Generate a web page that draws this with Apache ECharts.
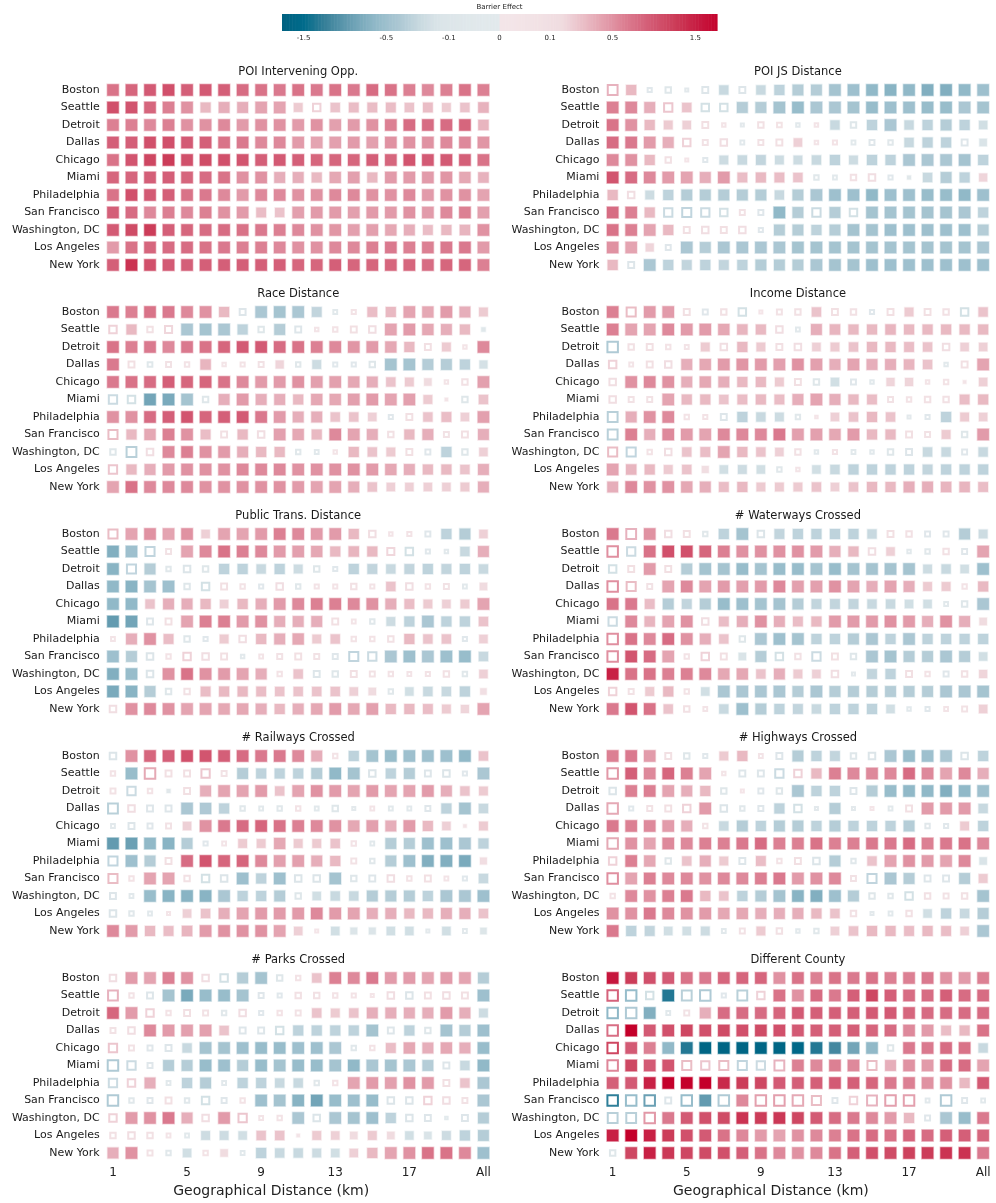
<!DOCTYPE html>
<html>
<head>
<meta charset="utf-8">
<script src="https://cdn.jsdelivr.net/npm/echarts@6/dist/echarts.min.js"></script>
<style>
  html, body { margin: 0; padding: 0; background: #fff; }
  #chart { width: 996px; height: 1203px; }
</style>
</head>
<body>
<div id="chart"></div>
<script>
// rows of every panel, top to bottom
const cities = ['Boston', 'Seattle', 'Detroit', 'Dallas', 'Chicago', 'Miami',
  'Philadelphia', 'San Francisco', 'Washington, DC', 'Los Angeles', 'New York'];
const distances = ['1','2','3','4','5','6','7','8','9','10','11','12','13','14','15','16','17','18','19','20','All'];
const colorbarTicks = [-1.5, -0.5, -0.1, 0, 0.1, 0.5, 1.5];
const colorbarMax = 1.85;

// barrier effect per city (row) and distance (column); hollow mask: 'o' = hollow marker
const poiOppVals = [
  [0.7,0.8,0.9,1.0,0.85,0.9,0.85,0.75,0.7,0.65,0.7,0.65,0.7,0.65,0.75,0.7,0.6,0.55,0.6,0.7,0.6],
  [1.0,0.95,0.8,0.6,0.5,0.3,0.35,0.35,0.4,0.4,0.22,0.2,0.25,0.28,0.28,0.28,0.25,0.28,0.22,0.25,0.33],
  [0.6,0.6,0.55,0.6,0.5,0.5,0.55,0.45,0.5,0.5,0.45,0.5,0.42,0.45,0.5,0.6,0.75,0.75,0.75,0.8,0.32],
  [0.85,0.85,1.0,1.0,0.9,0.85,0.7,0.65,0.55,0.55,0.45,0.4,0.42,0.45,0.42,0.5,0.5,0.5,0.55,0.55,0.48],
  [0.7,0.95,1.1,1.2,1.0,1.05,1.0,0.95,0.85,0.9,0.85,0.8,0.8,0.8,0.85,0.8,0.95,0.9,0.9,0.85,0.7],
  [0.8,0.8,0.85,0.85,0.8,0.75,0.7,0.5,0.5,0.35,0.35,0.3,0.38,0.42,0.3,0.45,0.45,0.45,0.48,0.38,0.33],
  [0.7,1.0,0.9,0.85,0.7,0.65,0.55,0.45,0.55,0.55,0.5,0.5,0.55,0.55,0.5,0.5,0.55,0.45,0.5,0.5,0.4],
  [0.85,0.75,0.55,0.6,0.55,0.6,0.5,0.45,0.28,0.25,0.42,0.45,0.45,0.42,0.45,0.45,0.5,0.45,0.55,0.6,0.42],
  [0.9,1.05,1.2,0.85,0.8,0.75,0.75,0.7,0.65,0.6,0.55,0.5,0.48,0.42,0.42,0.38,0.35,0.28,0.3,0.32,0.5],
  [0.45,0.7,0.8,0.75,0.75,0.7,0.65,0.6,0.6,0.55,0.5,0.5,0.55,0.55,0.6,0.65,0.6,0.6,0.65,0.65,0.45],
  [0.85,1.3,1.0,0.9,0.85,0.85,0.85,0.85,0.85,0.85,0.8,0.8,0.85,0.8,0.8,0.8,0.8,0.75,0.8,0.8,0.6]
];
const poiOppHollow = [
  '.....................', '...........o.........', '.....................', '.....................',
  '.....................', '.....................', '.....................', '.....................',
  '.....................', '.....................', '.....................'
];

const poiJsVals = [
  [0.35,0.3,-0.05,-0.1,-0.02,-0.12,-0.25,-0.12,-0.25,-0.3,-0.35,-0.35,-0.45,-0.5,-0.6,-0.65,-0.6,-0.7,-0.7,-0.6,-0.5],
  [0.6,0.55,0.35,0.25,0.25,-0.2,-0.2,-0.35,-0.35,-0.45,-0.55,-0.4,-0.4,-0.45,-0.55,-0.5,-0.5,-0.55,-0.55,-0.4,-0.45],
  [0.7,0.5,0.3,0.22,0.2,0.12,0.03,-0.02,0.1,0.07,-0.03,0.03,-0.25,-0.1,-0.3,-0.4,-0.25,-0.3,-0.35,-0.3,-0.2],
  [0.75,0.65,0.45,0.35,0.2,0.08,0.15,-0.04,0.08,0.12,0.2,0.03,0.05,-0.04,-0.08,-0.06,-0.25,-0.3,-0.3,-0.12,-0.15],
  [0.55,0.5,0.3,0.1,0.02,-0.05,-0.22,-0.25,-0.28,-0.22,-0.22,-0.25,-0.3,-0.22,-0.3,-0.3,-0.4,-0.4,-0.4,-0.45,-0.3],
  [0.95,0.75,0.55,0.45,0.4,0.35,0.45,0.28,0.3,0.28,0.25,-0.06,-0.04,0.1,0.15,-0.05,-0.02,-0.25,-0.35,-0.3,0.18],
  [0.3,0.15,-0.22,-0.3,-0.35,-0.35,-0.35,-0.35,-0.35,-0.25,-0.35,-0.4,-0.5,-0.5,-0.6,-0.5,-0.5,-0.55,-0.55,-0.6,-0.5],
  [0.75,0.6,0.3,-0.25,-0.3,-0.25,-0.2,0.08,-0.08,-0.6,-0.35,-0.25,-0.35,-0.2,-0.45,-0.45,-0.45,-0.45,-0.45,-0.4,-0.3],
  [0.7,0.6,0.4,0.3,0.12,0.15,0.12,0.15,-0.05,-0.35,-0.35,-0.3,-0.35,-0.45,-0.45,-0.5,-0.5,-0.5,-0.5,-0.5,-0.35],
  [0.5,0.4,0.18,-0.08,-0.4,-0.35,-0.4,-0.4,-0.4,-0.4,-0.45,-0.45,-0.45,-0.45,-0.45,-0.45,-0.45,-0.45,-0.45,-0.45,-0.4],
  [0.3,-0.12,-0.4,-0.3,-0.28,-0.3,-0.28,-0.3,-0.35,-0.35,-0.35,-0.4,-0.45,-0.45,-0.5,-0.5,-0.5,-0.5,-0.5,-0.5,-0.5]
];
const poiJsHollow = [
  'o.oooo.o.............', '...o.oo..............', '.....ooooooo.o.......', '....oooooo.ooooo...o.',
  '...ooo...............', '...........ooooo.....', '.o...................', '...oooooo..o.o.......',
  '....ooooo............', '...o.................', '.o...................'
];

const raceVals = [
  [0.65,0.6,0.7,0.65,0.55,0.5,0.3,-0.12,-0.4,-0.45,-0.4,-0.28,-0.04,0.05,0.28,0.3,0.4,0.38,0.45,0.35,0.22],
  [0.2,0.3,0.1,0.18,-0.4,-0.45,-0.4,-0.3,-0.1,-0.35,-0.12,0.03,0.06,0.12,0.15,0.4,0.45,0.38,0.35,0.3,-0.03],
  [0.7,0.6,0.65,0.55,0.65,0.7,0.8,0.9,0.9,0.75,0.7,0.6,0.55,0.48,0.45,0.38,0.3,0.12,0.22,0.03,0.55],
  [0.65,0.12,-0.07,0.08,0.06,0.32,0.03,0.05,0.08,0.18,-0.06,-0.22,-0.05,-0.05,-0.1,-0.45,-0.45,-0.35,-0.35,-0.3,-0.18],
  [0.65,0.7,0.75,0.85,0.8,0.8,0.7,0.55,0.45,0.45,0.5,0.42,0.42,0.38,0.35,0.25,0.22,0.15,0.03,0.1,0.42],
  [-0.25,-0.2,-0.8,-0.75,-0.45,-0.1,0.35,0.45,0.35,0.35,0.3,0.38,0.38,0.42,0.45,0.4,0.42,0.22,0.01,-0.1,0.25],
  [0.5,0.5,0.75,0.85,0.95,0.8,0.85,0.9,0.65,0.45,0.35,0.35,0.25,0.25,0.2,-0.05,0.12,0.25,0.28,0.2,0.42],
  [0.3,0.3,0.38,0.6,0.5,0.28,0.12,0.3,0.15,0.42,0.38,0.3,0.55,0.4,0.35,0.1,0.3,0.35,0.08,0.12,0.35],
  [-0.1,-0.35,0.15,0.55,0.6,0.5,0.45,0.35,0.3,0.3,-0.06,-0.04,0.03,0.3,0.25,0.22,0.12,-0.08,-0.3,-0.1,0.2],
  [0.25,0.3,0.35,0.45,0.5,0.5,0.5,0.55,0.55,0.55,0.5,0.5,0.5,0.5,0.45,0.38,0.35,0.3,0.3,0.25,0.35],
  [0.4,0.7,0.55,0.55,0.55,0.5,0.5,0.5,0.5,0.5,0.45,0.4,0.4,0.35,0.25,0.2,0.2,0.2,0.2,0.22,0.35]
];
const raceHollow = [
  '.......o....oo.......', 'o.oo....o.ooooo......', '.................o.o.', '.oooo.ooo.o.ooo......',
  '..................oo.', 'oo...o.............o.', '...............oo....', 'o.....o.o......o..oo.',
  'ooo.......ooo...oo.o.', 'o....................', '.....................'
];

const incomeVals = [
  [0.6,0.3,0.45,0.45,0.12,-0.08,0.1,-0.2,0.02,0.08,0.1,0.25,0.12,0.1,-0.05,0.12,0.22,0.12,0.1,-0.2,0.25],
  [0.6,0.4,0.4,0.55,0.45,0.45,0.38,0.32,0.3,0.15,-0.04,0.35,0.32,0.3,0.3,0.32,0.3,0.3,0.3,0.3,0.3],
  [-0.4,0.1,0.12,0.06,0.04,0.22,0.15,0.3,0.22,0.12,0.15,0.2,0.22,0.25,0.3,0.3,0.28,0.25,0.15,0.2,0.2],
  [0.2,0.04,0.12,0.15,0.35,0.38,0.45,0.48,0.45,0.42,0.5,0.42,0.35,0.4,0.35,0.35,0.32,0.25,-0.03,0.12,0.4],
  [0.15,0.5,0.55,0.5,0.35,0.38,0.35,0.3,0.3,0.22,0.12,-0.1,-0.2,-0.08,-0.03,0.18,0.18,0.03,0.06,0.01,0.2],
  [0.15,0.08,0.08,0.4,0.3,0.3,0.25,0.28,0.3,0.28,0.35,0.4,0.35,0.3,0.28,0.08,0.06,0.1,0.1,0.28,0.3],
  [-0.35,0.35,0.5,0.55,0.06,0.05,-0.12,-0.3,-0.25,-0.22,-0.06,0.01,0.2,0.25,0.3,0.25,-0.02,-0.05,-0.3,0.22,0.2],
  [-0.35,0.6,0.35,0.55,0.45,0.4,0.55,0.55,0.55,0.65,0.42,0.42,0.38,0.45,0.3,0.3,0.12,0.08,0.22,-0.1,0.45],
  [0.3,-0.3,0.06,0.15,0.25,0.28,0.4,0.3,0.25,0.2,0.1,-0.03,0.05,-0.04,-0.03,-0.1,-0.12,-0.25,-0.25,-0.08,-0.25],
  [0.4,0.32,0.3,0.22,0.25,0.12,-0.2,-0.22,-0.2,-0.06,0.03,-0.2,-0.25,-0.3,-0.3,-0.3,-0.3,-0.28,-0.3,-0.3,-0.3],
  [0.35,0.55,0.5,0.5,0.38,0.35,0.28,0.3,0.22,0.22,0.22,0.25,0.2,0.25,0.3,0.3,0.35,0.35,0.32,0.32,0.28]
];
const incomeHollow = [
  '.o..ooooooo.oooo.ooo.', '.........oo..........', 'ooooo.o..oo.......o..', 'oooo..............oo.',
  'o.........oo.oo..oo..', 'ooo............oooo..', 'o...ooo...oo....oo...', 'o...............oo.o.',
  'oooo......ooooooo..o.', '.........oo..........', '.....................'
];

const transitVals = [
  [0.3,0.4,0.5,0.4,0.5,0.2,0.4,0.4,0.45,0.6,0.55,0.45,0.45,0.3,0.15,0.03,0.05,-0.08,-0.3,-0.35,0.2],
  [-0.7,-0.5,-0.3,0.08,0.4,0.55,0.7,0.6,0.55,0.45,0.42,0.38,0.3,0.32,0.3,0.18,-0.2,-0.05,-0.03,-0.25,0.35],
  [-0.65,-0.3,-0.35,-0.06,-0.15,-0.1,-0.3,-0.3,-0.25,-0.3,-0.22,-0.1,-0.05,-0.3,-0.28,-0.25,-0.28,-0.3,-0.28,-0.3,-0.25],
  [-0.6,-0.65,-0.45,-0.5,-0.1,-0.2,0.12,0.06,-0.05,0.15,-0.06,0.05,0.05,0.1,0.05,0.25,0.15,0.06,0.08,-0.04,0.15],
  [-0.6,-0.6,0.25,0.35,0.35,0.3,0.2,0.3,0.35,0.45,0.55,0.6,0.6,0.55,0.5,0.35,0.28,0.22,0.2,0.22,0.4],
  [-0.9,-0.8,-0.12,0.12,0.4,0.6,0.6,0.45,0.5,0.35,0.35,0.35,0.12,0.04,-0.06,-0.22,-0.3,-0.4,-0.3,-0.3,0.25],
  [0.04,0.35,0.5,0.28,-0.1,-0.05,0.22,0.15,0.3,0.35,0.38,0.22,0.25,0.06,0.06,0.1,0.3,0.25,0.25,-0.05,0.2],
  [-0.5,-0.35,-0.15,0.06,0.2,0.15,0.12,-0.03,0.04,0.08,0.12,0.08,-0.08,-0.3,-0.25,-0.4,-0.5,-0.4,-0.5,-0.55,-0.25],
  [-0.7,-0.55,-0.15,0.5,0.7,0.5,0.45,0.4,0.35,0.06,0.25,-0.12,-0.1,0.12,0.08,0.06,0.04,0.05,0.1,-0.06,0.2],
  [-0.75,-0.65,-0.35,-0.1,0.1,0.28,0.3,0.3,0.28,0.25,0.25,0.25,0.25,0.2,0.15,-0.06,-0.2,-0.25,-0.25,-0.3,0.1],
  [0.15,0.5,0.55,0.5,0.4,0.4,0.38,0.38,0.35,0.3,0.35,0.38,0.45,0.38,0.42,0.3,0.3,0.28,0.22,0.18,0.4]
];
const transitHollow = [
  'o.............oooo...', '..oo...........oooo..', '.o.ooo.....oo........', '....ooooooooooo.oooo.',
  '.....................', '..oo........ooo......', 'o...oo.o.....ooo...o.', '..ooooooooooooo......',
  '..o......o.ooooooooo.', '...oo..........o.....', 'o....................'
];

const waterVals = [
  [0.65,0.35,0.5,0.15,0.12,-0.06,-0.3,-0.45,-0.15,-0.28,-0.3,-0.3,-0.3,-0.3,-0.25,0.12,0.1,-0.08,-0.08,-0.35,-0.22],
  [0.55,-0.25,0.7,1.0,1.0,0.8,0.6,0.5,0.5,0.5,0.5,0.45,0.35,0.3,0.15,0.2,-0.03,-0.06,0.1,-0.08,0.4],
  [-0.2,0.12,0.45,0.12,-0.35,-0.45,-0.45,-0.55,-0.45,-0.55,-0.55,-0.45,-0.55,-0.45,-0.45,-0.45,-0.45,-0.22,-0.25,-0.2,-0.5],
  [0.55,0.3,0.08,0.4,0.55,0.4,0.45,0.42,0.45,0.55,0.42,0.42,0.5,0.4,0.35,0.4,0.35,0.22,0.22,0.06,0.3],
  [0.7,0.65,0.28,-0.35,-0.28,-0.35,-0.55,-0.5,-0.45,-0.45,-0.35,-0.28,-0.28,-0.28,-0.25,-0.25,-0.2,-0.2,-0.04,-0.1,-0.4],
  [-0.25,0.55,0.32,0.4,0.5,0.15,0.28,0.35,0.5,0.35,0.28,0.3,0.45,0.45,0.45,0.5,0.45,0.35,0.5,0.35,0.15],
  [0.55,0.7,0.55,0.75,0.5,0.35,0.25,-0.1,-0.4,-0.5,-0.45,-0.3,-0.3,-0.35,-0.4,-0.3,-0.4,-0.3,-0.3,-0.3,-0.3],
  [0.55,0.95,0.75,0.4,0.06,0.2,0.12,-0.15,-0.35,-0.2,0.1,-0.25,0.12,-0.1,-0.4,-0.45,-0.35,-0.35,-0.4,-0.35,-0.2],
  [1.5,0.7,0.7,0.6,0.6,0.55,0.38,0.38,0.25,0.35,0.22,0.2,0.15,-0.02,-0.28,-0.3,0.12,0.06,-0.08,0.1,0.18],
  [0.2,0.08,0.22,0.3,0.06,-0.2,-0.4,-0.4,-0.4,-0.4,-0.35,-0.4,-0.35,-0.35,-0.35,-0.35,-0.35,-0.35,-0.4,-0.4,-0.45],
  [0.65,0.95,0.7,0.25,0.1,0.04,-0.25,-0.5,-0.35,-0.3,-0.28,-0.25,-0.3,-0.3,-0.3,-0.2,-0.03,-0.05,0.04,0.08,0.2]
];
const waterHollow = [
  '.o.ooo..o......oooo..', 'oo............o.oooo.', 'oo.o.................', 'ooo................o.',
  '..................oo.', 'o....o...............', 'o......o.............', 'o...ooo..ooooo.......',
  '............oo..oooo.', 'oo..o................', '....oo..........oooo.'
];

const railVals = [
  [-0.15,0.5,0.8,0.85,1.0,0.95,0.85,0.75,0.65,0.65,0.55,0.35,0.06,-0.3,-0.45,-0.55,-0.5,-0.5,-0.5,-0.6,0.25],
  [0.06,-0.55,0.4,0.12,0.12,0.25,0.08,-0.35,-0.3,-0.3,-0.3,-0.35,-0.6,-0.45,-0.15,-0.3,-0.35,-0.12,-0.15,-0.05,-0.4],
  [0.08,-0.25,0.06,-0.02,0.12,0.35,0.4,0.4,0.45,0.25,0.4,0.5,0.45,0.4,0.45,0.4,0.4,0.45,0.35,0.25,0.22],
  [-0.35,0.15,-0.12,-0.12,-0.4,-0.38,-0.3,-0.06,-0.04,-0.06,0.06,-0.04,-0.1,-0.02,0.04,-0.04,-0.04,-0.08,-0.3,-0.45,-0.25],
  [-0.04,-0.12,-0.08,0.08,0.2,0.5,0.65,0.75,0.8,0.7,0.6,0.55,0.5,0.38,0.42,0.35,0.45,0.3,0.2,0.01,0.22],
  [-0.9,-0.85,-0.6,-0.65,-0.35,-0.05,0.04,0.22,0.22,0.38,0.22,0.22,0.25,0.06,-0.04,-0.35,-0.35,-0.5,-0.5,-0.4,-0.3],
  [-0.3,-0.5,-0.35,0.12,0.75,0.95,0.8,0.8,0.55,0.42,0.42,0.35,0.3,0.08,-0.06,-0.35,-0.5,-0.7,-0.7,-0.75,0.12],
  [0.3,0.06,0.4,0.4,0.1,-0.2,-0.15,-0.5,-0.3,-0.5,-0.15,-0.15,-0.45,-0.1,-0.12,0.15,0.06,0.12,0.04,-0.05,-0.25],
  [-0.12,-0.04,-0.55,-0.65,-0.65,-0.65,-0.4,-0.3,-0.3,-0.35,-0.1,-0.2,-0.25,-0.25,-0.35,-0.35,-0.35,-0.3,-0.4,-0.4,-0.5],
  [-0.15,-0.06,-0.04,0.02,0.2,0.25,0.35,0.4,0.45,0.45,0.45,0.55,0.45,0.4,0.35,0.35,0.3,0.3,0.35,0.35,0.25],
  [0.55,0.45,0.3,0.28,0.32,0.45,0.5,0.5,0.5,0.4,0.2,0.02,-0.2,-0.12,-0.12,-0.2,-0.2,-0.02,-0.2,-0.04,-0.1]
];
const railHollow = [
  'o...........o........', 'o.ooooo.......o..ooo.', 'ooo.o................', 'oooo...ooooooooooo...',
  'oooo.................', '.....oo......oo......', 'o..o.........oo......', 'oo..ooo...oo.ooooooo.',
  'oo........o..........', 'oooo.................', '...........o.....o.o.'
];

const highwayVals = [
  [0.6,0.65,0.45,0.12,-0.1,-0.05,0.22,0.3,0.04,-0.12,-0.35,-0.3,-0.28,-0.1,-0.15,-0.4,-0.55,-0.5,-0.4,-0.15,-0.3],
  [0.5,0.85,0.55,0.8,0.6,0.4,0.03,-0.12,-0.12,-0.25,0.2,0.3,0.6,0.55,0.55,0.55,0.75,0.55,0.4,0.55,0.35],
  [-0.15,0.6,0.6,0.4,0.35,0.3,-0.1,0.02,-0.08,-0.1,-0.4,-0.3,-0.3,-0.12,-0.35,-0.55,-0.6,-0.6,-0.7,-0.6,-0.5],
  [0.4,-0.05,0.08,0.12,0.2,0.45,-0.15,-0.06,-0.08,-0.3,-0.2,-0.02,-0.35,-0.02,0.02,-0.04,0.12,0.45,0.45,0.45,-0.25],
  [0.65,0.6,0.55,0.45,0.35,0.06,-0.25,-0.35,-0.3,-0.35,-0.35,-0.3,-0.35,-0.3,-0.3,-0.3,-0.35,-0.06,-0.05,0.22,-0.3],
  [0.4,0.5,0.4,0.55,0.55,0.6,0.6,0.65,0.75,0.6,0.6,0.7,0.6,0.6,0.65,0.65,0.75,0.6,0.65,0.7,0.55],
  [0.2,0.6,0.38,-0.1,0.25,0.35,0.22,-0.12,0.28,0.06,0.12,-0.15,-0.35,-0.06,0.25,0.4,0.5,0.45,0.4,0.55,-0.15],
  [0.55,0.4,0.6,0.55,0.55,0.5,0.55,0.55,0.6,0.65,0.45,0.5,0.55,0.08,-0.3,-0.4,-0.35,-0.12,-0.12,-0.35,0.22],
  [0.06,0.55,0.5,0.6,0.65,0.3,0.25,-0.3,-0.35,-0.45,-0.65,-0.7,-0.5,-0.35,-0.1,-0.06,-0.2,0.1,0.08,0.1,-0.45],
  [0.5,0.5,0.65,0.55,0.5,0.45,0.38,0.38,0.35,0.35,0.35,0.3,0.25,0.1,-0.02,-0.04,0.1,-0.2,-0.3,-0.25,-0.35],
  [0.65,-0.3,-0.28,-0.2,-0.2,-0.22,-0.04,0.08,0.22,0.1,-0.03,-0.06,0.2,0.25,0.3,0.3,0.28,0.3,0.28,0.2,-0.4]
];
const highwayHollow = [
  '...ooo..oo...oo....o.', 'o.....ooooo..........', 'o.....oooo...o.......', 'ooooo.ooo.oo.oooo....',
  '.....o...........oo..', 'o....................', 'o..o...o.ooo.o.......', 'o............oo..oo..',
  'o.............oooooo.', '.............oooo....', '......oo.ooo.........'
];

const parkVals = [
  [0.15,0.45,0.4,0.6,0.5,0.15,-0.2,-0.35,-0.45,-0.1,0.06,0.25,0.6,0.55,0.65,0.45,0.45,0.4,0.45,0.4,-0.35],
  [0.35,0.06,-0.12,-0.45,-0.75,-0.55,-0.55,-0.45,-0.08,-0.05,0.1,0.1,0.06,0.05,0.02,0.15,-0.15,0.12,0.15,0.12,-0.5],
  [0.8,0.45,0.2,0.06,0.12,0.08,-0.06,0.15,-0.05,0.06,0.08,0.25,0.22,0.25,0.35,0.35,0.35,0.35,0.45,0.35,-0.22],
  [0.08,0.15,0.55,0.45,0.42,0.42,0.25,-0.12,-0.12,-0.2,-0.3,-0.3,-0.3,-0.3,-0.45,-0.12,-0.3,-0.1,-0.45,-0.35,-0.5],
  [0.25,0.08,-0.08,-0.12,-0.25,-0.45,-0.45,-0.5,-0.55,-0.55,-0.5,-0.5,-0.4,-0.06,0.06,0.28,0.38,0.35,0.38,0.35,-0.55],
  [-0.4,-0.25,-0.08,-0.35,-0.35,-0.55,-0.5,-0.35,-0.55,-0.45,-0.55,-0.55,-0.45,-0.6,-0.4,-0.45,-0.4,-0.35,-0.12,-0.25,-0.6],
  [-0.25,0.2,0.35,-0.04,-0.3,-0.35,-0.04,-0.3,-0.3,-0.25,-0.25,-0.06,0.06,0.4,0.45,0.42,0.5,0.45,0.12,0.25,-0.4],
  [-0.4,-0.06,-0.08,0.12,-0.06,-0.2,-0.08,0.06,-0.5,-0.45,-0.65,-0.8,-0.55,-0.5,-0.55,-0.15,-0.15,0.2,0.15,0.08,-0.4],
  [0.2,0.45,0.5,0.65,0.35,0.15,0.45,0.25,0.04,0.06,-0.4,-0.15,-0.4,-0.45,-0.5,-0.3,-0.15,-0.12,-0.01,-0.12,-0.35],
  [0.1,0.15,0.1,0.04,-0.04,-0.22,-0.22,-0.2,0.25,0.25,0.01,0.22,0.2,0.15,0.22,0.15,-0.2,-0.15,-0.22,-0.3,-0.35],
  [0.35,0.5,0.08,-0.06,-0.2,0.06,0.15,-0.04,-0.3,-0.25,-0.25,-0.22,-0.2,0.2,0.3,0.4,0.5,0.7,0.7,0.55,-0.5]
];
const parkHollow = [
  'o....oo..oo..........', 'ooo.....oooooooooooo.', '..ooooooooo..........', 'oo.....ooo.....o.o...',
  'oooo.........oo......', 'ooo...............o..', 'oo.o..o....oo.....o..', 'oooooooo.......ooooo.',
  'o....o.ooo.o....oooo.', 'ooooo................', '..oo.o.o.............'
];

const countyVals = [
  [1.6,1.2,1.0,0.9,0.7,0.65,0.8,0.8,0.8,0.5,0.7,0.6,0.7,0.65,0.7,0.6,0.6,0.65,0.5,0.45,0.6],
  [0.9,-0.6,-0.2,-1.3,-0.35,-0.4,-0.05,-0.35,0.2,0.7,0.5,0.75,0.65,0.85,1.1,0.85,0.75,0.75,0.85,0.75,0.75],
  [-0.65,-0.4,-0.7,-0.04,0.08,0.35,0.75,0.75,0.75,0.8,0.9,0.85,0.85,0.85,0.9,0.9,0.8,0.75,0.75,0.75,0.75],
  [0.8,1.9,0.9,1.0,1.1,1.0,1.05,1.0,1.05,1.0,0.9,0.85,0.85,0.85,0.8,0.75,0.55,0.45,0.28,0.3,0.7],
  [1.2,0.9,0.6,-0.6,-1.3,-1.7,-1.7,-1.7,-1.7,-1.7,-1.6,-1.3,-1.1,-0.8,-0.6,-0.1,0.65,0.65,0.75,0.7,-0.25],
  [0.6,1.1,0.9,0.95,0.3,0.25,0.3,-0.3,-0.25,0.35,0.6,0.55,0.6,0.55,0.3,0.35,0.5,0.45,0.75,0.75,0.4],
  [0.85,0.9,1.5,1.9,1.95,1.9,1.4,1.2,1.1,0.9,0.85,0.85,0.9,0.85,0.8,0.65,0.6,0.5,0.5,0.3,0.9],
  [-1.3,-0.6,-0.9,-0.12,-0.6,-0.9,-0.4,0.55,0.45,0.45,0.4,0.3,-0.08,0.2,0.35,0.45,0.45,-0.04,-0.4,-0.08,-0.04],
  [-0.35,-0.35,0.5,0.65,0.9,1.0,1.05,1.3,1.2,1.25,1.1,0.9,0.75,0.65,0.55,0.45,0.3,-0.08,-0.4,-0.55,0.65],
  [1.5,1.9,1.5,1.2,1.0,0.9,0.7,0.55,0.45,0.4,0.5,0.55,0.6,0.7,0.75,0.7,0.8,0.75,0.85,0.85,0.8],
  [-0.1,1.1,1.5,1.25,1.1,1.05,1.0,0.85,0.7,0.55,0.5,0.55,0.7,0.85,1.0,1.05,1.15,1.2,1.3,1.3,0.65]
];
const countyHollow = [
  '.....................', 'ooo.ooooo............', 'oo.oo................', 'o....................',
  'o..............o.....', 'o...oooooo....o......', '.....................', 'ooooo.o.ooooooooooooo',
  'ooo..............o...', '.....................', 'o....................'
];

const panels = [
  { title: 'POI Intervening Opp.', vals: poiOppVals, hollow: poiOppHollow },
  { title: 'POI JS Distance', vals: poiJsVals, hollow: poiJsHollow },
  { title: 'Race Distance', vals: raceVals, hollow: raceHollow },
  { title: 'Income Distance', vals: incomeVals, hollow: incomeHollow },
  { title: 'Public Trans. Distance', vals: transitVals, hollow: transitHollow },
  { title: '# Waterways Crossed', vals: waterVals, hollow: waterHollow },
  { title: '# Railways Crossed', vals: railVals, hollow: railHollow },
  { title: '# Highways Crossed', vals: highwayVals, hollow: highwayHollow },
  { title: '# Parks Crossed', vals: parkVals, hollow: parkHollow },
  { title: 'Different County', vals: countyVals, hollow: countyHollow }
];

// colour ramp (by |effect|)
const redStops = [[0,'#f3e5e8'],[0.15,'#f0dce0'],[0.25,'#ebc3cb'],[0.4,'#e4a4b1'],[0.6,'#dc8093'],
  [0.85,'#d45f78'],[1.2,'#cc3d59'],[1.6,'#c6163d'],[1.9,'#c4002a']];
const tealStops = [[0,'#e2e9ec'],[0.15,'#dae4e8'],[0.25,'#c8d9e0'],[0.4,'#abc7d3'],[0.6,'#91b9c8'],
  [0.85,'#6ba0b4'],[1.2,'#357f98'],[1.5,'#006b8b'],[1.9,'#00607f']];

function hexRgb(h) {
  return [parseInt(h.slice(1, 3), 16), parseInt(h.slice(3, 5), 16), parseInt(h.slice(5, 7), 16)];
}
function colorFor(v, alpha) {
  const stops = v < 0 ? tealStops : redStops;
  const a = Math.min(Math.abs(v), 1.9);
  let i = 0;
  while (i < stops.length - 2 && a > stops[i + 1][0]) i++;
  const f = (a - stops[i][0]) / (stops[i + 1][0] - stops[i][0]);
  const c0 = hexRgb(stops[i][1]), c1 = hexRgb(stops[i + 1][1]);
  const c = c0.map((x, k) => Math.round(x + (c1[k] - x) * f));
  return 'rgba(' + c.join(',') + ',' + (alpha == null ? 1 : alpha) + ')';
}
function sizeFor(v) {
  return 2.5 + 9 * Math.min(1, Math.pow(Math.abs(v) / 0.4, 0.6));
}

const myChart = echarts.init(document.getElementById('chart'));
const font = 'DejaVu Sans';

let grids = [], xAxes = [], yAxes = [], series = [], titles = [];
panels.forEach((p, k) => {
  const col = k % 2, row = Math.floor(k / 2);
  const left = col === 0 ? 103.7 : 603.4;
  const top = 81.25 + 222 * row;
  grids.push({ left: left, top: top, width: 389, height: 192.5 });
  const last = row === 4;
  xAxes.push({
    type: 'category', gridIndex: k, data: distances,
    axisLine: { show: false }, axisTick: { show: false }, splitLine: { show: false },
    axisLabel: { show: last, interval: 3, fontSize: 12, color: '#222', fontFamily: font, margin: 5 },
    name: last ? 'Geographical Distance (km)' : '',
    nameLocation: 'middle', nameGap: 23,
    nameTextStyle: { fontSize: 14, color: '#222', fontFamily: font, padding: [0, 54, 0, 0] }
  });
  yAxes.push({
    type: 'category', gridIndex: k, data: cities, inverse: true,
    axisLine: { show: false }, axisTick: { show: false }, splitLine: { show: false },
    axisLabel: { fontSize: 11, color: '#1a1a1a', fontFamily: font, margin: 4 }
  });
  titles.push({
    text: p.title, left: left + 194.5, top: top - 15, textAlign: 'center', padding: 0,
    textStyle: { fontSize: 11.5, fontWeight: 'normal', color: '#1a1a1a', fontFamily: font }
  });
  const data = [];
  p.vals.forEach((rowVals, r) => {
    rowVals.forEach((v, c) => {
      const hollow = p.hollow[r][c] === 'o';
      const s = sizeFor(v);
      data.push({
        value: [c, r, v],
        symbolSize: hollow ? s - 1 : s,
        itemStyle: hollow
          ? { color: '#fff', borderColor: colorFor(v, 0.95), borderWidth: 2, opacity: 1 }
          : { color: colorFor(v), borderColor: colorFor(v, 0.35), borderWidth: 1.5, opacity: 1 }
      });
    });
  });
  series.push({
    type: 'scatter', xAxisIndex: k, yAxisIndex: k, symbol: 'rect',
    itemStyle: { opacity: 1 },
    data: data, silent: true
  });
});

// colour bar: sqrt-scaled axis
const cbIdx = panels.length;
const tMax = Math.sqrt(colorbarMax);
grids.push({ left: 282, top: 14, width: 435, height: 17 });
xAxes.push({
  type: 'value', gridIndex: cbIdx, min: -tMax, max: tMax,
  axisLine: { show: false }, splitLine: { show: false },
  axisTick: { show: false },
  axisLabel: {
    customValues: colorbarTicks.map(v => Math.sign(v) * Math.sqrt(Math.abs(v))),
    formatter: val => String(Math.round(Math.sign(val) * val * val * 10) / 10),
    fontSize: 7, color: '#222', fontFamily: font, margin: 4
  }
});
yAxes.push({ type: 'value', gridIndex: cbIdx, min: 0, max: 1, show: false });
const barSteps = [];
const nSteps = 300;
for (let i = 0; i < nSteps; i++) {
  barSteps.push([-tMax + 2 * tMax * i / nSteps, -tMax + 2 * tMax * (i + 1) / nSteps]);
}
series.push({
  type: 'custom', xAxisIndex: cbIdx, yAxisIndex: cbIdx, silent: true,
  data: barSteps, encode: { x: [0, 1] },
  renderItem: (params, api) => {
    const a = api.value(0), b = api.value(1);
    const p0 = api.coord([a, 1]), p1 = api.coord([b, 0]);
    const m = (a + b) / 2;
    return {
      type: 'rect',
      shape: { x: p0[0], y: p0[1], width: p1[0] - p0[0] + 0.6, height: p1[1] - p0[1] },
      style: { fill: colorFor(Math.sign(m) * m * m) }
    };
  }
});
titles.push({
  text: 'Barrier Effect', left: 499.5, top: 4, textAlign: 'center', padding: 0,
  textStyle: { fontSize: 7, fontWeight: 'normal', color: '#222', fontFamily: font }
});

const option = {
  animation: false,
  backgroundColor: '#fff',
  title: titles,
  grid: grids,
  xAxis: xAxes,
  yAxis: yAxes,
  series: series
};
myChart.setOption(option);
</script>
</body>
</html>
